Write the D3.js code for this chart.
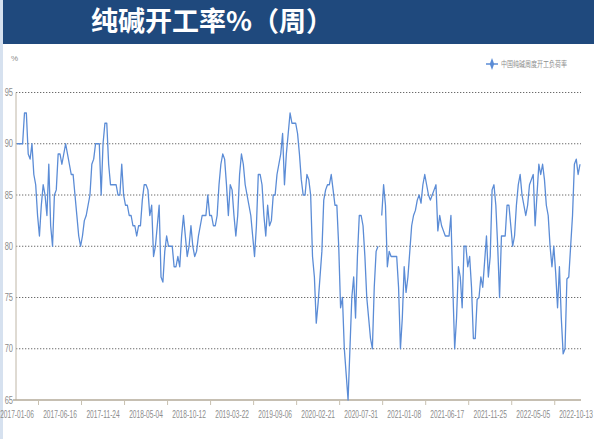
<!DOCTYPE html>
<html>
<head>
<meta charset="utf-8">
<script src="https://cdn.jsdelivr.net/npm/d3@7"></script>
<style>
  body { margin: 0; background: #fff; }
  svg { display: block; font-family: "Liberation Sans", "Noto Sans CJK SC", sans-serif; }
</style>
</head>
<body>
<div id="chart"></div>
<script>
// 数据：中国纯碱周度开工负荷率（%），按周排列，null 表示缺失
const rate = [
  90, 90, 90, 90, 93, 93, 89, 88.5, 90, 87, 86, 83, 81, 84, 86, 85, 83, 88, 82, 80,
  85, 85.5, 89, 89, 88, 89, 90, 89, 88, 87, 87, 85, 83, 81, 80, 81, 82.5, 83, 84, 85,
  88, 88.5, 90, 90, 90, 85, 90, 92, 92, 88, 86, 86, 86, 86, 85, 85, 88, 85, 84, 84,
  83, 83, 82, 82, 81, 82, 82, 84.5, 86, 86, 85.5, 83, 84, 79, 80, 82, 84, 77, 76.5, 79.5,
  81, 80, 80, 80, 78, 78, 79, 78, 81, 83, 81, 79, 80, 82, 80, 79, 79.5, 81, 82, 83,
  83, 83, 85, 83, 83, 82, 82, 83, 86, 88, 89, 88.5, 86, 83, 86, 85.5, 83, 81, 83, 87,
  89, 88, 86, 85, 84, 83, 81, 79, 82, 87, 87, 86, 83, 81, 84, 82, 82.5, 85, 85, 87,
  88, 89, 91, 86, 89, 91, 93, 92, 92, 92, 91, 89, 86.5, 85, 85, 87, 86.5, 85, 79, 77,
  72.5, 74.5, 77, 79.5, 84.5, 85.5, 86, 86, 87, 85.5, 84, 84, 80, 74, 75, 70, 67.5, 65, 70, 75,
  77, 73, 79, 83, 83, 82, 79, 75, 73, 71, 70, 76, 79.5, 80, null, 83, 86, 84, 78, 79.5,
  79, 79, 79, 79, 76, 70, 73, 78, 75.5, 77, 79.5, 82, 83, 83.5, 84.5, 85, 84.2, 86, 87, 86,
  85, 84.5, 85, 85.5, 86, 81.5, 83, 82, 81.5, 81, 81, 81, 83, 76, 70, 73, 78, 77, 74, 80,
  80, 78, 79, 76, 71, 71, 74.8, 75, 77, 76, 78.5, 81, 77, 79, 85.5, 86, 84, 80, 75, 81,
  81, 81, 84, 84, 82, 80, 81, 84, 86, 87, 85, 84, 83, 84, 86, 86.5, 87, 82, 85, 88,
  87, 88, 86.5, 84, 83, 80, 78, 80, 77.4, 74, 78, 73, 69.5, 70, 76.8, 77, 80, 83, 88, 88.5,
  87, 88
]
// 横轴标签（每 23 周一个）
const xLabels = ['2017-01-06', '2017-06-16', '2017-11-24', '2018-05-04', '2018-10-12', '2019-03-22',
  '2019-09-06', '2020-02-21', '2020-07-31', '2021-01-08', '2021-06-17', '2021-11-25', '2022-05-05', '2022-10-13']
const labelStep = 23
const yTicks = [65, 70, 75, 80, 85, 90, 95]
const title = '纯碱开工率%（周）'
const seriesName = '中国纯碱周度开工负荷率'

const width = 594
const height = 439
const lineColor = '#5b8cd6'
const textGrey = '#8c8c8c'

const svg = d3.select('#chart').append('svg').attr('width', width).attr('height', height)

// 左侧浅蓝边条 + 顶部标题栏
svg.append('rect').attr('x', 0).attr('y', 0).attr('width', 3).attr('height', height).attr('fill', '#d6e1ef')
svg.append('rect').attr('x', 3).attr('y', 0).attr('width', width - 3).attr('height', 44).attr('fill', '#1f497d')
svg.append('text').text(title).attr('x', 91).attr('y', 31)
  .attr('font-family', '"Noto Sans CJK SC", sans-serif').attr('font-weight', 'bold')
  .attr('font-size', 27).attr('fill', '#fff')

// 比例尺
const xScale = d3.scaleLinear().domain([0, rate.length - 1]).range([17, 580])
const yScale = d3.scaleLinear().domain([65, 95]).range([400, 92.5])

// 网格线（点线）
svg.append('g').selectAll('line').data(yTicks.filter(d => d > 65)).join('line')
  .attr('x1', 16).attr('x2', 581)
  .attr('y1', d => yScale(d)).attr('y2', d => yScale(d))
  .attr('stroke', '#6b6b6b').attr('stroke-width', 1).attr('stroke-dasharray', '1.3,1.7')

// 坐标轴线
svg.append('line').attr('x1', 16).attr('x2', 16).attr('y1', yScale(95)).attr('y2', yScale(65))
  .attr('stroke', '#bfb6a6').attr('stroke-width', 1)
svg.append('line').attr('x1', 13).attr('x2', 581).attr('y1', yScale(65)).attr('y2', yScale(65))
  .attr('stroke', '#b3aa98').attr('stroke-width', 1.5)

// 纵轴刻度标签（横向压缩的窄字）
svg.append('g').selectAll('g').data(yTicks).join('g')
  .attr('transform', d => `translate(13,${yScale(d) + 3.5}) scale(0.75,1)`)
  .append('text').text(d => d)
  .attr('text-anchor', 'end').attr('font-size', 10).attr('fill', textGrey)
svg.append('text').text('%').attr('x', 11).attr('y', 61)
  .attr('font-size', 8).attr('fill', textGrey)

// 横轴刻度线（位于标签之间）与标签
const tickIdx = d3.range(xLabels.length - 1).map(k => k * labelStep + labelStep / 2)
svg.append('g').selectAll('line').data(tickIdx).join('line')
  .attr('x1', d => xScale(d)).attr('x2', d => xScale(d))
  .attr('y1', yScale(65)).attr('y2', yScale(65) + 5)
  .attr('stroke', '#c8c0b0').attr('stroke-width', 1)
svg.append('g').selectAll('g').data(xLabels).join('g')
  .attr('transform', (d, i) => `translate(${Math.min(Math.max(xScale(i * labelStep), 17), 576)},418) scale(0.66,1)`)
  .append('text').text(d => d)
  .attr('text-anchor', 'middle').attr('font-size', 10).attr('fill', textGrey)

// 折线
const line = d3.line()
  .defined(d => d != null)
  .x((d, i) => xScale(i))
  .y(d => yScale(d))
svg.append('path').datum(rate).attr('d', line)
  .attr('fill', 'none').attr('stroke', lineColor).attr('stroke-width', 1.3)
  .attr('stroke-linejoin', 'round')

// 图例
const lg = svg.append('g').attr('transform', 'translate(492,64)')
lg.append('line').attr('x1', -6).attr('x2', 6).attr('y1', 0).attr('y2', 0)
  .attr('stroke', lineColor).attr('stroke-width', 1.5)
lg.append('path').attr('d', d3.symbol(d3.symbolDiamond, 30)())
  .attr('fill', lineColor).attr('transform', 'scale(0.75,1.2)')
lg.append('g').attr('transform', 'translate(9,3) scale(0.75,1)')
  .append('text').text(seriesName)
  .attr('font-family', '"Noto Sans CJK SC", sans-serif')
  .attr('font-size', 8).attr('fill', textGrey)
</script>
</body>
</html>
